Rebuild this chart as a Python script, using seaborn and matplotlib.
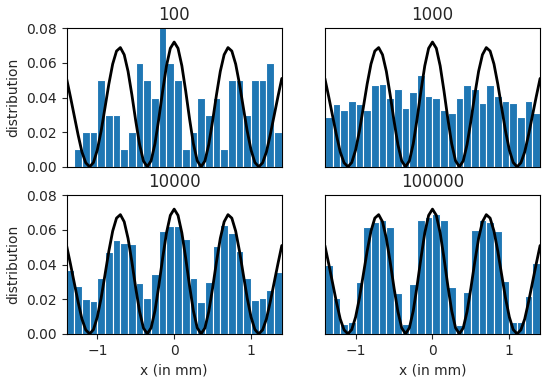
import numpy as np
import pandas as pd
import matplotlib
matplotlib.use("Agg")
import matplotlib.pyplot as plt
import seaborn as sns

# histogram data: fraction of hits per 0.1 mm bin, x from -1.4 to 1.4 mm
bin_edges = np.linspace(-1.4, 1.4, 29)
bin_centers = (bin_edges[:-1] + bin_edges[1:]) / 2

titles = ["100", "1000", "10000", "100000"]

hist_100 = [0.00, 0.01, 0.02, 0.02, 0.05, 0.03, 0.03, 0.01, 0.02, 0.06,
            0.05, 0.04, 0.08, 0.06, 0.05, 0.01, 0.02, 0.04, 0.03, 0.04,
            0.01, 0.05, 0.05, 0.03, 0.05, 0.05, 0.06, 0.02]
hist_1000 = [0.029, 0.036, 0.033, 0.038, 0.036, 0.033, 0.047, 0.048, 0.040, 0.045,
             0.034, 0.043, 0.053, 0.041, 0.040, 0.033, 0.031, 0.040, 0.047, 0.045,
             0.037, 0.047, 0.041, 0.038, 0.037, 0.029, 0.038, 0.031]
hist_10000 = [0.0366, 0.0274, 0.0201, 0.0189, 0.0320, 0.0471, 0.0544, 0.0522, 0.0521, 0.0293,
              0.0209, 0.0343, 0.0591, 0.0622, 0.0624, 0.0545, 0.0320, 0.0182, 0.0299, 0.0505,
              0.0626, 0.0582, 0.0478, 0.0320, 0.0197, 0.0209, 0.0255, 0.0358]
hist_100000 = [0.0400, 0.0209, 0.0059, 0.0071, 0.0299, 0.0616, 0.0645, 0.0655, 0.0618, 0.0235,
               0.0056, 0.0289, 0.0655, 0.0676, 0.0693, 0.0655, 0.0272, 0.0050, 0.0243, 0.0599,
               0.0658, 0.0647, 0.0593, 0.0308, 0.0067, 0.0069, 0.0216, 0.0408]
hists = [hist_100, hist_1000, hist_10000, hist_100000]

# theoretical curve, read every 0.05 mm from x=0 to x=1.4 (symmetric)
curve_half = [0.0720, 0.0684, 0.0583, 0.0437, 0.0277, 0.0133, 0.0035, 0.0000, 0.0034, 0.0129,
              0.0265, 0.0415, 0.0551, 0.0647, 0.0688, 0.0668, 0.0593, 0.0477, 0.0341, 0.0207,
              0.0097, 0.0025, 0.0000, 0.0023, 0.0086, 0.0185, 0.0295, 0.0405, 0.0510]
curve_y = curve_half[::-1] + curve_half[1:]
curve_x = np.linspace(-1.4, 1.4, len(curve_y))

sns.set_style("ticks")
plt.rcParams["font.family"] = ["DejaVu Sans"]

fig, axes = plt.subplots(2, 2, figsize=(5.5, 3.86), dpi=100)
fig.subplots_adjust(left=0.121, right=0.982, top=0.927, bottom=0.135,
                    wspace=0.20, hspace=0.205)

for i, ax in enumerate(axes.flat):
    df = pd.DataFrame({"x": bin_centers, "w": hists[i]})
    sns.histplot(data=df, x="x", weights="w", binwidth=0.1, binrange=(-1.4, 1.4),
                 stat="count", color="#1f77b4", alpha=1, edgecolor="white",
                 linewidth=0.8, ax=ax)
    sns.lineplot(x=curve_x, y=curve_y, color="black", linewidth=2, ax=ax)
    ax.set_xlim(-1.4, 1.4)
    ax.set_ylim(0, 0.08)
    ax.set_title(titles[i], fontsize=12)
    for s in ax.spines.values():
        s.set_visible(True)
        s.set_color("black")
    if i % 2 == 0:
        ax.set_yticks([0, 0.02, 0.04, 0.06, 0.08])
        ax.set_yticklabels(["0.00", "0.02", "0.04", "0.06", "0.08"])
        ax.set_ylabel("distribution")
    else:
        ax.set_yticks([])
        ax.set_ylabel("")
    if i >= 2:
        ax.set_xticks([-1, 0, 1])
        ax.set_xticklabels(["\u22121", "0", "1"])
        ax.set_xlabel("x (in mm)")
    else:
        ax.set_xticks([])
        ax.set_xlabel("")
    ax.tick_params(labelsize=10, length=3.5, width=0.8)

fig.savefig("out.png", dpi=100)
